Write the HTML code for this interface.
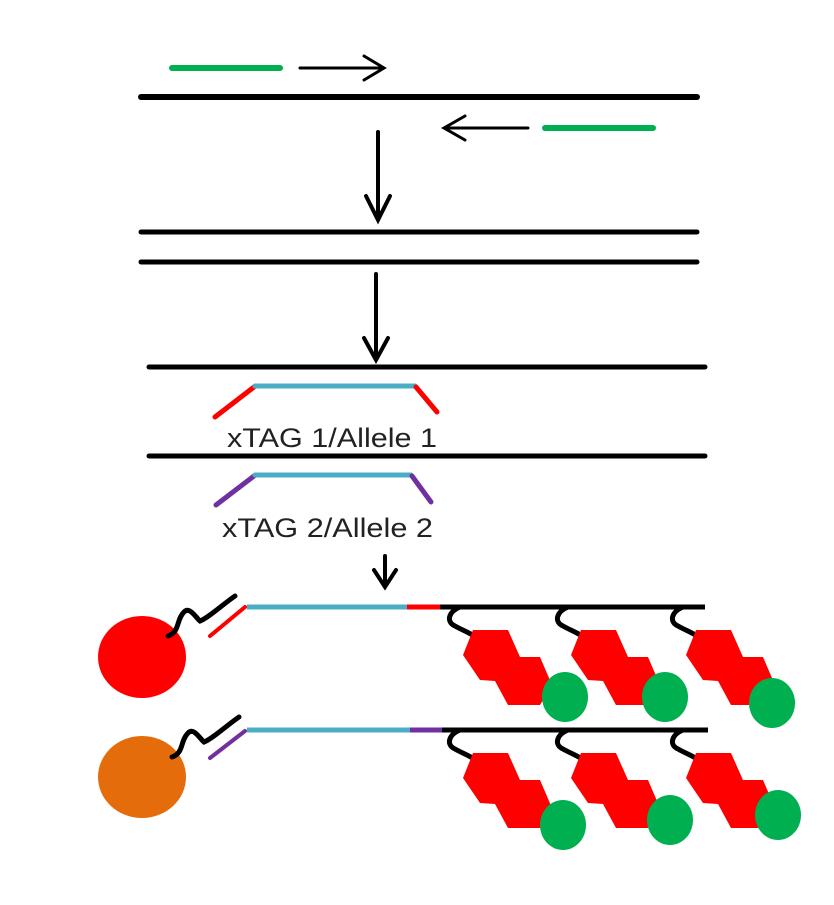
<!DOCTYPE html>
<html><head><style>html,body{margin:0;padding:0;background:#fff;}</style></head>
<body>
<svg width="834" height="900" viewBox="0 0 834 900" xmlns="http://www.w3.org/2000/svg">
<defs>
<g id="chain">
<path d="M460,607 C448,612 446,622 455,626 C462,630 468,632 474,636" fill="none" stroke="#000" stroke-width="5" stroke-linecap="round"/>
<polygon points="473,630 508,630 520,657 540,657 552,685 540,705 508,705 495,681 480,680 463,655" fill="#f00"/>
</g>
</defs>
<g stroke-linecap="round" fill="none">
<line x1="172" y1="68" x2="280" y2="68" stroke="#00b050" stroke-width="6"/>
<line x1="300" y1="68" x2="383" y2="68" stroke="#000" stroke-width="3"/>
<polyline points="364,56 384,68 364,80" stroke="#000" stroke-width="3"/>
<line x1="141" y1="97" x2="697" y2="97" stroke="#000" stroke-width="6"/>
<line x1="445" y1="128" x2="528" y2="128" stroke="#000" stroke-width="3"/>
<polyline points="465,116 444,128 465,140" stroke="#000" stroke-width="3"/>
<line x1="545" y1="128" x2="653" y2="128" stroke="#00b050" stroke-width="6"/>
<line x1="378" y1="132" x2="378" y2="218" stroke="#000" stroke-width="4"/>
<polyline points="366,196 378,220 390,196" stroke="#000" stroke-width="4"/>
<line x1="141" y1="232" x2="697" y2="232" stroke="#000" stroke-width="5"/>
<line x1="141" y1="262" x2="697" y2="262" stroke="#000" stroke-width="5"/>
<line x1="376" y1="274" x2="376" y2="358" stroke="#000" stroke-width="4"/>
<polyline points="364,338 376,360 388,338" stroke="#000" stroke-width="4"/>
<line x1="149" y1="367" x2="705" y2="367" stroke="#000" stroke-width="5"/>
<line x1="215" y1="417" x2="254" y2="387" stroke="#f00" stroke-width="5"/>
<line x1="255" y1="386" x2="415" y2="386" stroke="#4bacc6" stroke-width="5"/>
<line x1="416" y1="387" x2="437" y2="412" stroke="#f00" stroke-width="5"/>
<line x1="149" y1="456" x2="705" y2="456" stroke="#000" stroke-width="5"/>
<line x1="216" y1="505" x2="254" y2="476" stroke="#7030a0" stroke-width="5"/>
<line x1="255" y1="475" x2="411" y2="475" stroke="#4bacc6" stroke-width="5"/>
<line x1="412" y1="476" x2="431" y2="502" stroke="#7030a0" stroke-width="5"/>
<line x1="385" y1="556" x2="385" y2="584" stroke="#000" stroke-width="4"/>
<polyline points="374,570 385,587 396,570" stroke="#000" stroke-width="4"/>
</g>
<text x="227" y="447" font-family="Liberation Sans, sans-serif" font-size="27" fill="#222" textLength="210" lengthAdjust="spacingAndGlyphs">xTAG 1/Allele 1</text>
<text x="222" y="537" font-family="Liberation Sans, sans-serif" font-size="27" fill="#222" textLength="211" lengthAdjust="spacingAndGlyphs">xTAG 2/Allele 2</text>

<!-- row 1 -->
<ellipse cx="142" cy="657" rx="44" ry="41" fill="#f00"/>
<path d="M168,636 C180,632 176,620 184,612 C190,606 196,618 200,621 C208,618 222,605 235,596" fill="none" stroke="#000" stroke-width="5" stroke-linecap="round"/>
<line x1="210" y1="636" x2="245" y2="607" stroke="#f00" stroke-width="4" stroke-linecap="round"/>
<line x1="247" y1="607" x2="407" y2="607" stroke="#4bacc6" stroke-width="5"/>
<line x1="407" y1="607" x2="440" y2="607" stroke="#f00" stroke-width="5"/>
<line x1="440" y1="607" x2="705" y2="607" stroke="#000" stroke-width="5"/>
<use href="#chain"/>
<use href="#chain" transform="translate(108,0)"/>
<use href="#chain" transform="translate(223,0)"/>
<ellipse cx="565" cy="697" rx="23" ry="25" fill="#00b050"/>
<ellipse cx="665" cy="697" rx="23" ry="25" fill="#00b050"/>
<ellipse cx="772" cy="703" rx="23" ry="25" fill="#00b050"/>

<!-- row 2 -->
<ellipse cx="142" cy="777" rx="44" ry="41" fill="#e46c0a"/>
<path d="M172,757 C184,753 180,741 188,733 C194,727 200,739 204,742 C212,739 226,726 239,717" fill="none" stroke="#000" stroke-width="5" stroke-linecap="round"/>
<line x1="210" y1="758" x2="245" y2="731" stroke="#7030a0" stroke-width="4" stroke-linecap="round"/>
<line x1="247" y1="730" x2="410" y2="730" stroke="#4bacc6" stroke-width="5"/>
<line x1="410" y1="730" x2="442" y2="730" stroke="#7030a0" stroke-width="5"/>
<line x1="442" y1="730" x2="708" y2="730" stroke="#000" stroke-width="5"/>
<use href="#chain" transform="translate(0,123)"/>
<use href="#chain" transform="translate(108,123)"/>
<use href="#chain" transform="translate(223,123)"/>
<ellipse cx="563" cy="825" rx="23" ry="25" fill="#00b050"/>
<ellipse cx="670" cy="820" rx="23" ry="25" fill="#00b050"/>
<ellipse cx="778" cy="815" rx="23" ry="25" fill="#00b050"/>
</svg>
</body></html>
